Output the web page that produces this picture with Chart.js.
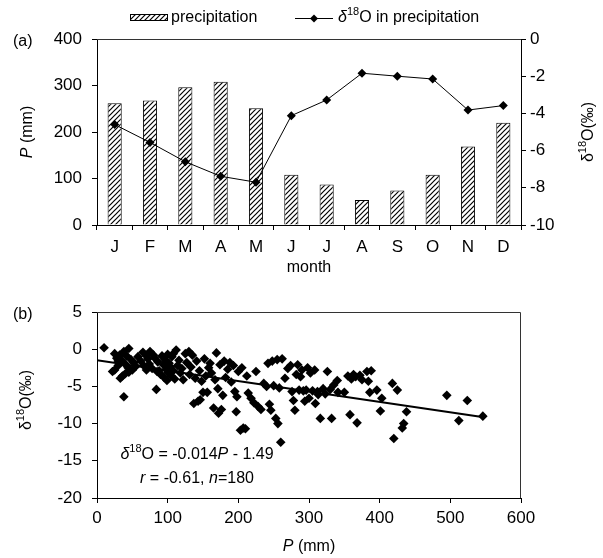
<!DOCTYPE html>
<html>
<head>
<meta charset="utf-8">
<script src="https://cdn.jsdelivr.net/npm/chart.js@4"></script>
<style>
  body { margin: 0; background: #fff; }
  #wrap { position: relative; width: 603px; height: 558px; }
  canvas { position: absolute; left: 0; }
  #chartA { top: 0; }
  #chartB { top: 280px; }
</style>
</head>
<body>
<div id="wrap">
  <canvas id="chartA" width="603" height="280"></canvas>
  <canvas id="chartB" width="603" height="278"></canvas>
</div>
<script>
// (a) monthly values
const months = ['J', 'F', 'M', 'A', 'M', 'J', 'J', 'A', 'S', 'O', 'N', 'D'];
const precipitation = [262, 268, 296, 308, 251, 108, 87, 54, 74, 108, 169, 220];
const delta18O = [-4.6, -5.56, -6.6, -7.38, -7.7, -4.12, -3.28, -1.84, -2.0, -2.15, -3.82, -3.58];

// (b) individual samples, P (mm) vs delta18O (permil)
const sampleP = [
  10, 25, 28, 32, 35, 38, 40, 42, 45, 48, 22, 25, 30, 33, 36, 40, 45, 50, 52, 38, 55, 58, 30, 44,
  65, 70, 75, 80, 82, 62, 66, 70, 74, 78, 84, 86, 88, 90, 92, 94, 95, 96, 98, 99, 100, 100, 72, 85,
  102, 104, 105, 106, 108, 110, 112, 114, 116, 118, 120, 122, 125, 127, 130, 131, 133, 135, 137, 139, 141, 143, 145, 146, 148, 150, 108,
  152, 154, 156, 158, 160, 162, 165, 167, 169, 171, 172, 174, 176, 178, 180, 182, 185, 188, 190, 193, 195, 197, 198, 200, 203, 205, 207, 210,
  212, 214, 218, 222, 225, 228, 232, 236, 240, 242, 244, 246, 248, 250, 253, 255, 256, 258, 260, 262, 266, 270, 274, 276, 278, 280, 282, 284, 286, 288, 290, 292, 294, 296, 298, 300,
  302, 305, 308, 309, 312, 313, 316, 320, 323, 326, 330, 332, 335, 340, 341, 350, 355, 358, 360, 363, 366, 368, 372, 375, 382, 384, 386, 388, 396, 401, 403,
  418, 420, 425, 432, 434, 438, 495, 512, 524, 546
];
const sampleDelta = [
  0.2, -0.6, -1.2, -0.8, -1.5, -0.3, -2.0, -0.9, 0.1, -1.4, -3.0, -2.8, -2.2, -3.9, -3.6, -3.3, -3.1, -2.8, -1.8, -6.4, -2.3, -1.0, -1.6, -2.5,
  -0.4, -0.9, -0.3, -0.8, -1.2, -1.6, -2.2, -2.8, -2.0, -2.6, -5.4, -1.7, -2.9, -3.4, -0.9, -2.1, -3.8, -1.4, -2.7, -4.2, -0.7, -3.1, -1.3, -3.0,
  -1.9, -2.4, -3.6, -1.0, -2.9, -4.0, -0.1, -2.2, -1.5, -3.2, -2.6, -4.1, -0.6, -1.8, -0.3, -3.4, -2.4, -0.8, -7.3, -3.9, -1.6, -7.0, -2.9, -6.8, -4.3, -5.8, -0.6,
  -1.3, -3.6, -5.8, -2.5, -1.9, -3.2, -7.9, -4.1, -0.5, -5.3, -8.6, -2.1, -8.1, -6.2, -1.6, -3.8, -2.7, -1.8, -4.4, -2.2, -5.7, -8.4, -6.4, -3.0, -10.9, -2.5, -10.6, -10.7,
  -3.6, -5.9, -6.6, -7.2, -3.0, -7.7, -8.1, -4.6, -5.0, -1.9, -7.4, -8.2, -1.6, -4.9, -9.3, -1.4, -10.0, -5.2, -12.5, -1.3, -3.9, -2.6, -2.2, -5.7, -6.9, -8.2, -3.4, -2.1, -5.5, -3.7, -2.8, -5.6, -7.0, -5.5, -2.5, -6.6,
  -3.2, -5.6, -2.8, -7.3, -5.7, -6.1, -9.3, -5.3, -6.0, -3.0, -5.4, -9.3, -4.8, -4.2, -5.8, -5.8, -3.6, -8.8, -4.0, -3.4, -3.7, -9.9, -3.5, -4.1, -3.0, -4.3, -5.8, -2.9, -5.5, -8.3, -6.6,
  -4.6, -12.0, -5.5, -10.6, -10.0, -8.4, -6.2, -9.6, -6.9, -9.0
];
// regression line end points: d18O = -0.014P - 1.49
const trendP = [0, 545];
const trendDelta = [-1.49, -9.12];

const FONT = "'Liberation Sans', Arial, sans-serif";
const INK = '#000';

function fontStr(size, italic) {
  return (italic ? 'italic ' : '') + size + 'px ' + FONT;
}

// text with italic parts and superscripts
function drawRich(ctx, parts, x, y, size, align, rot) {
  ctx.save();
  ctx.translate(x, y);
  if (rot) ctx.rotate(rot);
  ctx.textBaseline = 'middle';
  ctx.textAlign = 'left';
  ctx.fillStyle = INK;
  let w = 0;
  parts.forEach(p => {
    ctx.font = fontStr(p.sup ? Math.round(size * 0.68) : size, p.i);
    w += ctx.measureText(p.t).width;
  });
  let cx = align === 'center' ? -w / 2 : (align === 'right' ? -w : 0);
  parts.forEach(p => {
    ctx.font = fontStr(p.sup ? Math.round(size * 0.68) : size, p.i);
    ctx.fillText(p.t, cx, p.sup ? -size * 0.36 : 0);
    cx += ctx.measureText(p.t).width;
  });
  ctx.restore();
}

function makeHatch() {
  const c = document.createElement('canvas');
  c.width = 5;
  c.height = 5;
  const g = c.getContext('2d');
  g.fillStyle = '#fff';
  g.fillRect(0, 0, 5, 5);
  g.strokeStyle = '#000';
  g.lineWidth = 1.2;
  g.beginPath();
  g.moveTo(-1, 6); g.lineTo(6, -1);
  g.moveTo(-1, 1); g.lineTo(1, -1);
  g.moveTo(4, 6); g.lineTo(6, 4);
  g.stroke();
  return g.createPattern(c, 'repeat');
}
const hatch = makeHatch();

const tickFont = { family: FONT, size: 17 };
const axisGrid = { drawOnChartArea: false, drawTicks: true, tickLength: 5, color: INK };

const decoA = {
  id: 'decoA',
  afterDraw(chart) {
    const ctx = chart.ctx;
    const a = chart.chartArea;
    ctx.save();
    ctx.strokeStyle = '#333';
    ctx.lineWidth = 1;
    ctx.beginPath();
    ctx.moveTo(a.left, a.top + 0.5);
    ctx.lineTo(a.right, a.top + 0.5);
    ctx.stroke();

    // legend
    ctx.fillStyle = hatch;
    ctx.fillRect(130, 14, 38, 7);
    ctx.strokeStyle = '#000';
    ctx.strokeRect(130.5, 14.5, 37, 6);
    drawRich(ctx, [{ t: 'precipitation' }], 171, 18, 16, 'left');
    ctx.beginPath();
    ctx.moveTo(295, 18.5);
    ctx.lineTo(333, 18.5);
    ctx.stroke();
    ctx.fillStyle = '#000';
    ctx.beginPath();
    ctx.moveTo(314, 14.5); ctx.lineTo(318, 18.5); ctx.lineTo(314, 22.5); ctx.lineTo(310, 18.5);
    ctx.closePath();
    ctx.fill();
    drawRich(ctx, [{ t: 'δ', i: true }, { t: '18', sup: true }, { t: 'O in precipitation' }], 338, 18, 16, 'left');
    ctx.restore();

    drawRich(ctx, [{ t: '(a)' }], 13, 42, 16, 'left');
    drawRich(ctx, [{ t: 'P', i: true }, { t: ' (mm)' }], 28, (a.top + a.bottom) / 2, 16, 'center', -Math.PI / 2);
    drawRich(ctx, [{ t: 'δ' }, { t: '18', sup: true }, { t: 'O(‰)' }], 589, (a.top + a.bottom) / 2, 16, 'center', -Math.PI / 2);
    drawRich(ctx, [{ t: 'month' }], (a.left + a.right) / 2, 268, 16, 'center');
  }
};

const decoB = {
  id: 'decoB',
  afterDraw(chart) {
    const ctx = chart.ctx;
    const a = chart.chartArea;
    ctx.save();
    ctx.strokeStyle = '#333';
    ctx.lineWidth = 1;
    ctx.beginPath();
    ctx.moveTo(a.left, a.top + 0.5);
    ctx.lineTo(a.right - 0.5, a.top + 0.5);
    ctx.lineTo(a.right - 0.5, a.bottom);
    ctx.stroke();
    ctx.restore();

    drawRich(ctx, [{ t: '(b)' }], 13, 35, 16, 'left');
    drawRich(ctx, [{ t: 'δ' }, { t: '18', sup: true }, { t: 'O(‰)' }], 27, 120, 16, 'center', -Math.PI / 2);
    drawRich(ctx, [{ t: 'P', i: true }, { t: ' (mm)' }], (a.left + a.right) / 2, 267, 16, 'center');
    drawRich(ctx, [{ t: 'δ', i: true }, { t: '18', sup: true }, { t: 'O = -0.014' }, { t: 'P', i: true }, { t: ' - 1.49' }], 197, 175, 16, 'center');
    drawRich(ctx, [{ t: 'r', i: true }, { t: ' = -0.61, ' }, { t: 'n', i: true }, { t: '=180' }], 197, 199, 16, 'center');
  }
};

new Chart(document.getElementById('chartA'), {
  data: {
    labels: months,
    datasets: [
      {
        type: 'line',
        data: delta18O,
        yAxisID: 'yR',
        borderColor: '#000',
        borderWidth: 1,
        pointStyle: 'rectRot',
        pointRadius: 4.5,
        pointBackgroundColor: '#000',
        pointBorderWidth: 0,
        tension: 0,
        order: 0
      },
      {
        type: 'bar',
        data: precipitation,
        yAxisID: 'yL',
        backgroundColor: hatch,
        borderColor: '#000',
        borderWidth: 1,
        barPercentage: 0.4,
        categoryPercentage: 1,
        order: 1
      }
    ]
  },
  options: {
    responsive: false,
    animation: false,
    events: [],
    layout: { padding: { top: 39, left: 0, right: 0, bottom: 0 } },
    plugins: { legend: { display: false }, tooltip: { enabled: false } },
    scales: {
      x: {
        offset: true,
        grid: Object.assign({ offset: true }, axisGrid),
        border: { color: INK },
        ticks: { font: tickFont, color: INK, padding: 7, maxRotation: 0, autoSkip: false },
        afterFit: s => { s.height = 55; }
      },
      yL: {
        position: 'left',
        min: 0,
        max: 400,
        grid: axisGrid,
        border: { color: INK },
        ticks: { stepSize: 100, font: tickFont, color: INK, padding: 10 },
        afterFit: s => { s.width = 97; }
      },
      yR: {
        position: 'right',
        min: -10,
        max: 0,
        grid: axisGrid,
        border: { color: INK },
        ticks: { stepSize: 2, font: tickFont, color: INK, padding: 4 },
        afterFit: s => { s.width = 82; }
      }
    }
  },
  plugins: [decoA]
});

new Chart(document.getElementById('chartB'), {
  type: 'scatter',
  data: {
    datasets: [
      {
        data: sampleP.map((p, i) => ({ x: p, y: sampleDelta[i] })),
        pointStyle: 'rectRot',
        pointRadius: 4.8,
        backgroundColor: '#000',
        borderWidth: 0,
        order: 1
      },
      {
        type: 'line',
        data: trendP.map((p, i) => ({ x: p, y: trendDelta[i] })),
        borderColor: '#000',
        borderWidth: 2,
        pointRadius: 0,
        showLine: true,
        order: 0
      }
    ]
  },
  options: {
    responsive: false,
    animation: false,
    events: [],
    layout: { padding: { top: 32, left: 0, right: 82, bottom: 0 } },
    plugins: { legend: { display: false }, tooltip: { enabled: false } },
    scales: {
      x: {
        type: 'linear',
        min: 0,
        max: 600,
        grid: axisGrid,
        border: { color: INK },
        ticks: { stepSize: 100, font: tickFont, color: INK, padding: 5, maxRotation: 0 },
        afterFit: s => { s.height = 60; }
      },
      y: {
        min: -20,
        max: 5,
        grid: axisGrid,
        border: { color: INK },
        ticks: { stepSize: 5, font: tickFont, color: INK, padding: 10 },
        afterFit: s => { s.width = 97; }
      }
    }
  },
  plugins: [decoB]
});
</script>
</body>
</html>
